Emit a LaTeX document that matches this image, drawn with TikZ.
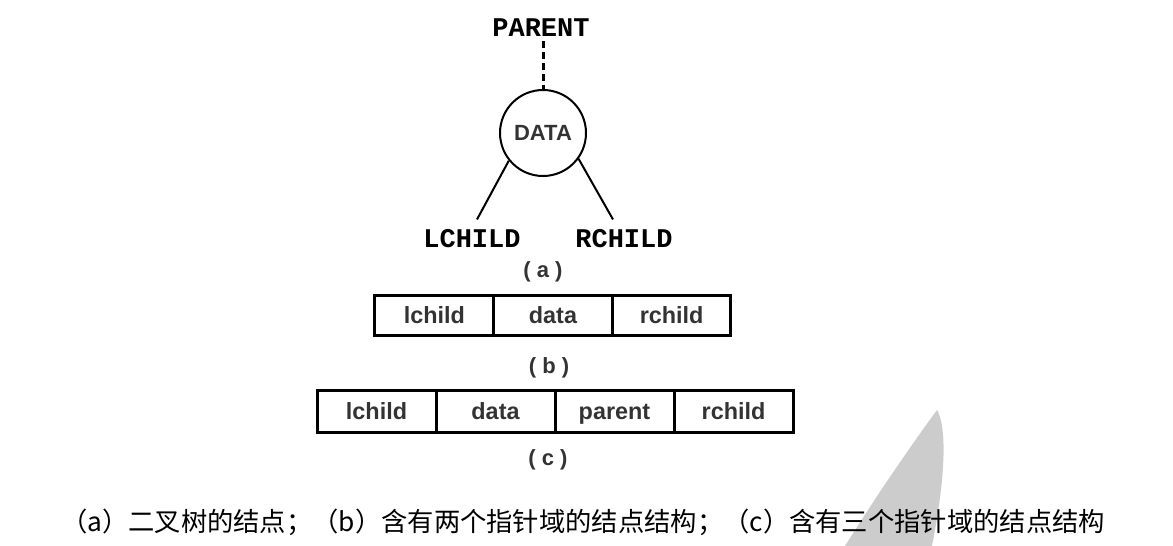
\documentclass[tikz,border=0pt]{standalone}
\usepackage{fontspec}
\setmainfont{Liberation Sans}
\newfontfamily\monob{Liberation Mono}
\newfontfamily\cjk{Noto Sans CJK SC}
\usepackage{xcolor}
\usetikzlibrary{positioning}
\definecolor{ink1}{HTML}{333333}
\definecolor{mark1}{HTML}{CCCCCC}

\tikzset{
  treelabel/.style={font=\monob\bfseries\fontsize{13.5}{15}\selectfont, inner sep=1pt},
  cell/.style={draw, line width=1.5pt, outer sep=0pt, inner sep=0pt, minimum height=20pt,
    text height=9.5pt, text depth=1.5pt,
    font=\bfseries\fontsize{11.7}{13}\selectfont, text=ink1},
  sublabel/.style={font=\bfseries\fontsize{11}{13}\selectfont, text=ink1}
}

\begin{document}
\begin{tikzpicture}[x=0.5pt,y=-0.5pt]
\useasboundingbox (0,0) rectangle (1173,546);

% grey mark behind the caption
\fill[mark1] (937,410) .. controls (946,425) and (947,470) .. (932,546) -- (845,546)
  .. controls (880,490) and (915,440) .. (937,410);

% (a) node of a binary tree
\node (parent) at (541,28) [treelabel] {PARENT};
\node (data) at (543,133) [circle, draw, line width=1pt, minimum size=43pt,
  font=\bfseries\fontsize{11}{12}\selectfont, text=ink1] {DATA};
\node (lchild) at (472,239) [treelabel] {LCHILD};
\node (rchild) at (624,239) [treelabel] {RCHILD};

\draw[line width=1.5pt, dash pattern=on 3.5pt off 2pt, shorten <=1pt]
  (data.north |- parent.south) -- (data.north);
\draw[line width=1pt] (data.219) -- ([xshift=2.5pt,yshift=4pt]lchild.north);
\draw[line width=1pt] (data.324) -- ([xshift=-5.5pt,yshift=4pt]rchild.north);

\node (suba) at (543,272) [sublabel] {( a )};

% (b) two pointer fields
\node (b1) at (434.3,315.5) [cell, minimum width=59.33pt] {lchild};
\node (b2) [cell, minimum width=59.33pt, right=0pt of b1] {data};
\node (b3) [cell, minimum width=59.33pt, right=0pt of b2] {rchild};

\node (subb) at (549,368) [sublabel] {( b )};

% (c) three pointer fields
\node (c1) at (376.5,411) [cell, minimum width=59.5pt, minimum height=21pt] {lchild};
\node (c2) [cell, minimum width=59.5pt, minimum height=21pt, right=0pt of c1] {data};
\node (c3) [cell, minimum width=59.5pt, minimum height=21pt, right=0pt of c2] {parent};
\node (c4) [cell, minimum width=59.5pt, minimum height=21pt, right=0pt of c3] {rchild};

\node (subc) at (548,460) [sublabel] {( c )};

\node (caption) at (583,522) [font=\cjk\fontsize{13.15}{16}\selectfont]
  {（a）二叉树的结点；（b）含有两个指针域的结点结构；（c）含有三个指针域的结点结构};

\end{tikzpicture}
\end{document}
